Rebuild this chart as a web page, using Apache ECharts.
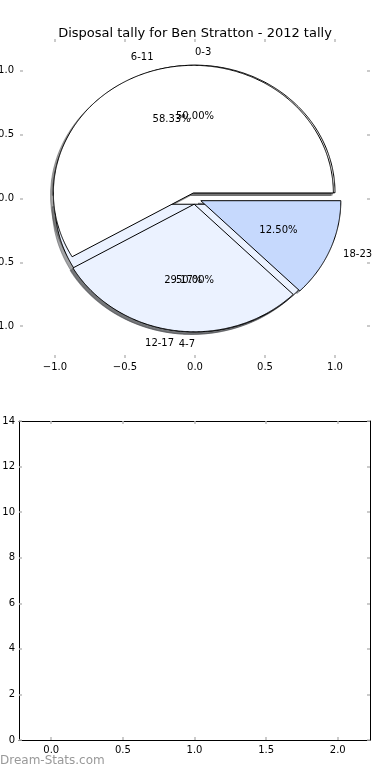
<!DOCTYPE html>
<html><head><meta charset="utf-8">
<script src="https://cdn.jsdelivr.net/npm/echarts@6/dist/echarts.min.js"></script>
<style>html,body{margin:0;padding:0;background:#fff}#c{width:390px;height:780px}</style>
</head><body><div id="c"></div>
<script>
const titleText = 'Disposal tally for Ben Stratton - 2012 tally';
const watermarkText = 'Dream-Stats.com';
const innerLabels = ['0-3', '4-7'];
const innerValues = [1, 1];
const innerColors = ['#FFFFFF', '#EBF2FF'];
const outerLabels = ['6-11', '12-17', '18-23'];
const outerValues = [14, 7, 3];
const outerColors = ['#FFFFFF', '#EBF2FF', '#C6D9FD'];
const explodeAmt = 0.045;
const pieTicks = [-1.0, -0.5, 0.0, 0.5, 1.0];
const barXTicks = [0.0, 0.5, 1.0, 1.5, 2.0];
const barYTicks = [0, 2, 4, 6, 8, 10, 12, 14];

const FONT = '"DejaVu Sans", "Liberation Sans", sans-serif';

function buildPie(labels, values, colors) {
  const total = values.reduce((a, b) => a + b, 0);
  let t = 0; const out = [];
  values.forEach((v, i) => {
    const frac = v / total;
    const t1 = t * 360, t2 = (t + frac) * 360;
    const mid = (t1 + t2) / 2 * Math.PI / 180;
    out.push({
      label: labels[i], pct: (frac * 100).toFixed(2) + '%',
      t1, t2, mid, color: colors[i],
      cx: explodeAmt * Math.cos(mid), cy: explodeAmt * Math.sin(mid)
    });
    t += frac;
  });
  return out;
}
const pies = [buildPie(innerLabels, innerValues, innerColors), buildPie(outerLabels, outerValues, outerColors)];

const drawList = [];
pies.forEach(p => p.forEach(w => drawList.push({ kind: 'shadow', w })));
pies.forEach(p => p.forEach(w => drawList.push({ kind: 'wedge', w })));
pies.forEach(p => p.forEach(w => {
  drawList.push({ kind: 'label', w });
  drawList.push({ kind: 'pct', w });
}));

function hexRgb(h) {
  return [parseInt(h.slice(1, 3), 16), parseInt(h.slice(3, 5), 16), parseInt(h.slice(5, 7), 16)];
}

function renderItem(params, api) {
  const d = drawList[api.value(2)];
  const w = d.w;
  if (d.kind === 'shadow' || d.kind === 'wedge') {
    const off = d.kind === 'shadow' ? -0.02 : 0;
    const ox = w.cx + off, oy = w.cy + off;
    const pts = [api.coord([ox, oy])];
    const n = Math.max(10, Math.ceil((w.t2 - w.t1) * 2));
    for (let k = 0; k <= n; k++) {
      const a = (w.t1 + (w.t2 - w.t1) * k / n) * Math.PI / 180;
      pts.push(api.coord([ox + Math.cos(a), oy + Math.sin(a)]));
    }
    let style;
    if (d.kind === 'shadow') {
      const c = hexRgb(w.color).map(x => Math.round(x * 0.3));
      const col = 'rgba(' + c.join(',') + ',0.5)';
      style = { fill: col, stroke: col, lineWidth: 1 };
    } else {
      style = { fill: w.color, stroke: '#000', lineWidth: 1 };
    }
    return { type: 'polygon', shape: { points: pts }, style };
  }
  let r = d.kind === 'label' ? 1.1 : 0.6;
  const x = w.cx + r * Math.cos(w.mid), y = w.cy + r * Math.sin(w.mid);
  const p = api.coord([x, y]);
  const align = d.kind === 'label' ? (x > 0 ? 'left' : 'right') : 'center';
  return {
    type: 'text', x: p[0], y: p[1],
    style: { text: d.kind === 'label' ? w.label : w.pct, fill: '#000', font: '10px ' + FONT, align, verticalAlign: 'middle' }
  };
}

const fmt1 = v => (v < -1e-9 ? '\u2212' : '') + Math.abs(v).toFixed(1);
const tickStyle = { show: true, inside: true, length: 3, lineStyle: { color: '#bbbbbb', width: 1.5 } };

function mkAxis(o) {
  return Object.assign({
    type: 'value', splitLine: { show: false }, axisLine: { show: false, onZero: false }
  }, o);
}

const option = {
  animation: false,
  backgroundColor: '#fff',
  title: { text: titleText, left: 'center', top: 22, textStyle: { fontSize: 13, fontWeight: 'normal', fontFamily: FONT, color: '#000' } },
  graphic: [{ type: 'text', left: 0, top: 755, style: { text: watermarkText, font: '12px ' + FONT, fill: '#999999' } }],
  grid: [
    { left: 20, right: 20, top: 39, bottom: 422, containLabel: false, outerBoundsMode: 'none' },
    { left: 19, right: 20, top: 421, bottom: 40, containLabel: false, outerBoundsMode: 'none' }
  ],
  xAxis: [
    mkAxis({ gridIndex: 0, position: 'bottom', min: -1.25, max: 1.25,
      axisTick: Object.assign({ customValues: pieTicks }, tickStyle),
      axisLabel: { customValues: pieTicks, formatter: fmt1, fontSize: 10, fontFamily: FONT, color: '#000', margin: 4 } }),
    mkAxis({ gridIndex: 0, position: 'top', min: -1.25, max: 1.25,
      axisTick: Object.assign({ customValues: pieTicks }, tickStyle), axisLabel: { show: false } }),
    mkAxis({ gridIndex: 1, position: 'bottom', min: -0.225, max: 2.225,
      axisLine: { show: true, onZero: false, lineStyle: { color: '#000', width: 1 } },
      axisTick: Object.assign({ customValues: barXTicks }, tickStyle),
      axisLabel: { customValues: barXTicks, formatter: fmt1, fontSize: 10, fontFamily: FONT, color: '#000', margin: 5 } }),
    mkAxis({ gridIndex: 1, position: 'top', min: -0.225, max: 2.225,
      axisLine: { show: true, onZero: false, lineStyle: { color: '#000', width: 1 } },
      axisTick: Object.assign({ customValues: barXTicks }, tickStyle), axisLabel: { show: false } })
  ],
  yAxis: [
    mkAxis({ gridIndex: 0, position: 'left', min: -1.25, max: 1.25,
      axisTick: Object.assign({ customValues: pieTicks }, tickStyle),
      axisLabel: { customValues: pieTicks, formatter: fmt1, fontSize: 10, fontFamily: FONT, color: '#000', margin: 6 } }),
    mkAxis({ gridIndex: 0, position: 'right', min: -1.25, max: 1.25,
      axisTick: Object.assign({ customValues: pieTicks }, tickStyle), axisLabel: { show: false } }),
    mkAxis({ gridIndex: 1, position: 'left', min: 0, max: 14,
      axisLine: { show: true, onZero: false, lineStyle: { color: '#000', width: 1 } },
      axisTick: Object.assign({ customValues: barYTicks }, tickStyle),
      axisLabel: { customValues: barYTicks, formatter: v => String(v), fontSize: 10, fontFamily: FONT, color: '#000', margin: 4 } }),
    mkAxis({ gridIndex: 1, position: 'right', min: 0, max: 14,
      axisLine: { show: true, onZero: false, lineStyle: { color: '#000', width: 1 } },
      axisTick: Object.assign({ customValues: barYTicks }, tickStyle), axisLabel: { show: false } })
  ],
  series: [
    { type: 'custom', xAxisIndex: 0, yAxisIndex: 0, renderItem,
      encode: { x: 0, y: 1 }, silent: true,
      data: drawList.map((d, i) => [0, 0, i]) },
    { type: 'line', xAxisIndex: 2, yAxisIndex: 2, data: [] }
  ]
};

const chart = echarts.init(document.getElementById('c'), null, { renderer: 'canvas' });
chart.setOption(option);
</script></body></html>
